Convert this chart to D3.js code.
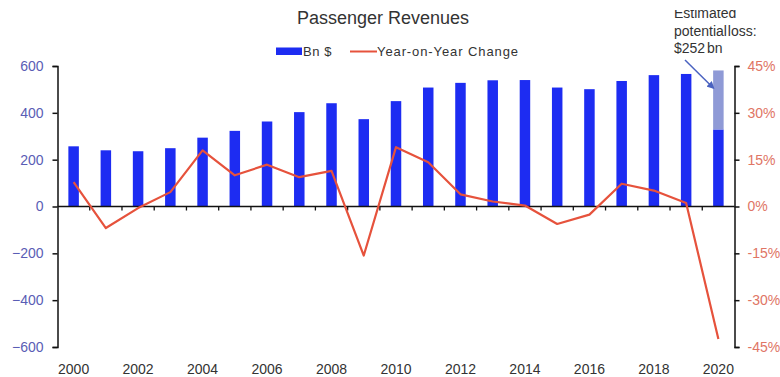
<!DOCTYPE html>
<html>
<head>
<meta charset="utf-8">
<script src="https://cdn.jsdelivr.net/npm/d3@7/dist/d3.min.js"></script>
<style>
  html, body { margin: 0; padding: 0; background: #fff; }
  svg { display: block; font-family: "Liberation Sans", Arial, sans-serif; }
</style>
</head>
<body>
<svg id="chart" width="780" height="377"></svg>
<script>
// Airline passenger revenues (Bn $) and year-on-year change (%)
const years = [2000, 2001, 2002, 2003, 2004, 2005, 2006, 2007, 2008, 2009, 2010,
               2011, 2012, 2013, 2014, 2015, 2016, 2017, 2018, 2019, 2020];
const revenue = [257, 240, 236, 249, 294, 323, 363, 403, 441, 373, 450,
                 508, 528, 539, 540, 508, 501, 536, 561, 566, 329];
const potentialLoss = [0, 0, 0, 0, 0, 0, 0, 0, 0, 0, 0,
                       0, 0, 0, 0, 0, 0, 0, 0, 0, 252];
const yoyChange = [7.8, -6.9, -0.5, 4.6, 18.0, 10.0, 13.4, 9.4, 11.4, -15.7, 19.0,
                   14.2, 3.9, 1.6, 0.3, -5.6, -2.6, 7.3, 5.1, 1.1, -42.4];
const leftTicks = [-600, -400, -200, 0, 200, 400, 600];
const rightTicks = [-45, -30, -15, 0, 15, 30, 45];
const xLabelYears = [2000, 2002, 2004, 2006, 2008, 2010, 2012, 2014, 2016, 2018, 2020];

const svg = d3.select("#chart");
const plotLeft = 57.5, plotRight = 734.5, plotTop = 66, plotBottom = 347;

const x = d3.scaleBand().domain(years).range([plotLeft, plotRight]).paddingInner(0).paddingOuter(0);
const yL = d3.scaleLinear().domain([-600, 600]).range([plotBottom, plotTop]);
const yR = d3.scaleLinear().domain([-45, 45]).range([plotBottom, plotTop]);
const barW = 10.5;

// Title
svg.append("text").attr("x", 383).attr("y", 24).attr("text-anchor", "middle")
  .attr("font-size", 18).attr("fill", "#333")
  .text("Passenger Revenues");

// Legend
svg.append("rect").attr("x", 276).attr("y", 47.5).attr("width", 26).attr("height", 7.5).attr("fill", "#1d2cf2");
svg.append("text").attr("x", 303).attr("y", 56).attr("font-size", 13).attr("letter-spacing", 0.6)
  .attr("fill", "#333").text("Bn $");
svg.append("line").attr("x1", 350).attr("x2", 377).attr("y1", 51.5).attr("y2", 51.5)
  .attr("stroke", "#e6523c").attr("stroke-width", 2);
svg.append("text").attr("x", 377).attr("y", 56).attr("font-size", 13).attr("letter-spacing", 0.9)
  .attr("fill", "#333").text("Year-on-Year Change");

// Bars: reported revenue and estimated loss stacked on top
const cx = d => x(d) + x.bandwidth() / 2;
svg.append("g").selectAll("rect").data(years).join("rect")
  .attr("x", (d) => cx(d) - barW / 2)
  .attr("width", barW)
  .attr("y", (d, i) => yL(revenue[i]))
  .attr("height", (d, i) => yL(0) - yL(revenue[i]))
  .attr("fill", "#1d2cf2");
svg.append("g").selectAll("rect").data(years.filter((d, i) => potentialLoss[i] > 0)).join("rect")
  .attr("x", d => cx(d) - barW / 2)
  .attr("width", barW)
  .attr("y", d => { const i = years.indexOf(d); return yL(revenue[i] + potentialLoss[i]); })
  .attr("height", d => { const i = years.indexOf(d); return yL(revenue[i]) - yL(revenue[i] + potentialLoss[i]); })
  .attr("fill", "#8f9ad6");

// Left axis
const gL = svg.append("g").attr("transform", `translate(${plotLeft},0)`)
  .call(d3.axisLeft(yL).tickValues(leftTicks).tickSize(5).tickPadding(9));
gL.select(".domain").attr("stroke", "#111").attr("stroke-width", 1.5);
gL.selectAll(".tick line").attr("stroke", "#111").attr("stroke-width", 1.5);
gL.selectAll(".tick text").attr("font-size", 14).attr("fill", "#5a5db5")
  .attr("font-family", "'Liberation Sans', Arial, sans-serif");

// Right axis
const gR = svg.append("g").attr("transform", `translate(${plotRight},0)`)
  .call(d3.axisRight(yR).tickValues(rightTicks).tickSize(5).tickPadding(8).tickFormat(d => d + "%"));
gR.select(".domain").attr("stroke", "#111").attr("stroke-width", 1.5);
gR.selectAll(".tick line").attr("stroke", "#111").attr("stroke-width", 1.5);
gR.selectAll(".tick text").attr("font-size", 14).attr("fill", "#e07565")
  .attr("font-family", "'Liberation Sans', Arial, sans-serif");

// Zero baseline with band boundary ticks
const zeroY = yL(0);
svg.append("line").attr("x1", plotLeft).attr("x2", plotRight).attr("y1", zeroY).attr("y2", zeroY)
  .attr("stroke", "#111").attr("stroke-width", 1.5);
svg.append("g").selectAll("line").data(years.slice(1)).join("line")
  .attr("x1", d => x(d)).attr("x2", d => x(d))
  .attr("y1", zeroY).attr("y2", zeroY + 4)
  .attr("stroke", "#111").attr("stroke-width", 1.3);

// Year labels
svg.append("g").selectAll("text").data(xLabelYears).join("text")
  .attr("x", d => cx(d)).attr("y", 374).attr("text-anchor", "middle")
  .attr("font-size", 14).attr("fill", "#333").text(d => d);

// Year-on-year change line
const line = d3.line().x((d, i) => cx(years[i])).y(d => yR(d));
svg.append("path").datum(yoyChange).attr("d", line)
  .attr("fill", "none").attr("stroke", "#e6523c").attr("stroke-width", 2.2)
  .attr("stroke-linejoin", "round");

// Annotation for the 2020 estimated loss (top edge trimmed by the frame)
const defs = svg.append("defs");
defs.append("clipPath").attr("id", "annClip")
  .append("rect").attr("x", 600).attr("y", 10).attr("width", 180).attr("height", 60);
const ann = svg.append("g").attr("clip-path", "url(#annClip)")
  .attr("font-size", 14).attr("fill", "#333");
ann.append("text").attr("x", 674).attr("y", 18).text("Estimated");
ann.append("text").attr("x", 674).attr("y", 36).attr("word-spacing", -3).text("potential loss:");
ann.append("text").attr("x", 674).attr("y", 53).attr("word-spacing", -2).text("$252 bn");

defs.append("marker").attr("id", "arrowHead").attr("viewBox", "0 0 10 10")
  .attr("refX", 8).attr("refY", 5).attr("markerWidth", 5).attr("markerHeight", 5)
  .attr("orient", "auto")
  .append("path").attr("d", "M0,0 L10,5 L0,10 z").attr("fill", "#4a62c0");
svg.append("line").attr("x1", 685).attr("y1", 60).attr("x2", cx(2020) - 5).attr("y2", 88)
  .attr("stroke", "#4a62c0").attr("stroke-width", 1.5).attr("marker-end", "url(#arrowHead)");
</script>
</body>
</html>
